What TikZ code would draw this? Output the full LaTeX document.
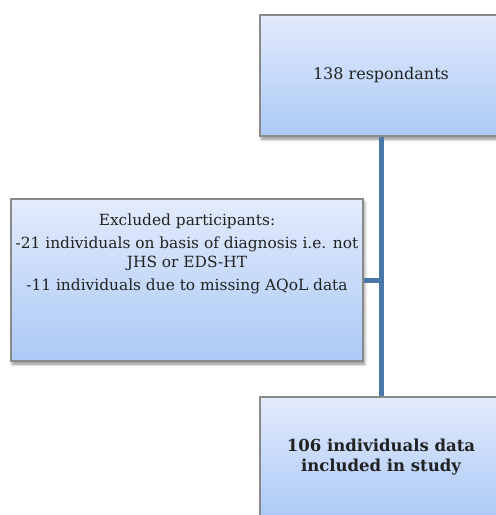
\documentclass[tikz,border=0pt]{standalone}
\usepackage{fontspec}
\setmainfont{DejaVu Serif}
\usetikzlibrary{shadows.blur}
\definecolor{boxtop}{HTML}{E3EBFC}
\definecolor{boxbottom}{HTML}{ABC9F6}
\definecolor{boxedge}{HTML}{8A8A8A}
\definecolor{linkblue}{HTML}{4A78A8}
\definecolor{ink}{HTML}{222222}
\tikzset{
  flowbox/.style={draw=boxedge, line width=1.1pt, top color=boxtop, bottom color=boxbottom,
    blur shadow={shadow xshift=1.5pt, shadow yshift=-3pt, shadow blur radius=3pt, shadow opacity=45},
    inner sep=0pt},
  boxtext/.style={text=ink, align=center, font=\fontsize{16}{19.5}\selectfont},
  link/.style={draw=linkblue, line width=5pt}
}
\begin{document}
\begin{tikzpicture}[x=1pt,y=-1pt]
  \useasboundingbox (0,0) rectangle (496,515);
  % boxes
  \node[flowbox, minimum width=242pt, minimum height=121pt] (top) at (381,75.5) {};
  \node[flowbox, minimum width=352pt, minimum height=162pt] (excl) at (187,280) {};
  \node[flowbox, minimum width=242pt, minimum height=121pt] (incl) at (381,457.5) {};
  % texts
  \node[boxtext] (toptext) at (top.center) {138 respondants};
  \node[boxtext, font=\fontsize{15.4}{19.5}\selectfont, anchor=north] (excltext)
    at ([yshift=-12pt]excl.north)
    {Excluded participants:\\[3pt]
     -21 individuals on basis of diagnosis i.e. not\\
     JHS or EDS-HT\\[3pt]
     -11 individuals due to missing AQoL data};
  \node[boxtext, font=\fontsize{16.5}{20}\selectfont\bfseries] (incltext) at (incl.center)
    {106 individuals data\\included in study};
  % connectors
  \draw[link] (top.south) -- (incl.north);
  \coordinate (join) at (top.south |- excl.east);
  \draw[link] (excl.east) -- ([xshift=2.5pt]join);
\end{tikzpicture}
\end{document}
